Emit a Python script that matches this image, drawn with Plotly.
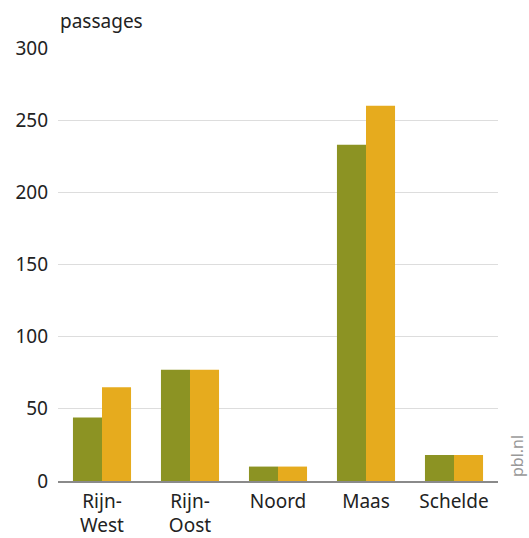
import plotly.graph_objects as go

categories = ["Rijn-<br>West", "Rijn-<br>Oost", "Noord", "Maas", "Schelde"]
series_a = [44, 77, 10, 233, 18]
series_b = [65, 77, 10, 260, 18]
y_ticks = [0, 50, 100, 150, 200, 250, 300]

FONT = "Noto Sans"
W, H = 529, 538
ML, MR, MT, MB = 58, 31, 48, 57
pw = W - ML - MR
ph = H - MT - MB


def px_to_paper(px, py):
    return (px - ML) / pw, (H - MB - py) / ph


fig = go.Figure()
fig.add_trace(go.Bar(x=categories, y=series_a, marker=dict(color="#8C9323", line=dict(width=0)), name="a"))
fig.add_trace(go.Bar(x=categories, y=series_b, marker=dict(color="#E6AB1E", line=dict(width=0)), name="b"))

tx, ty = px_to_paper(58, 21)
px_, py_ = px_to_paper(517, 456)

fig.update_layout(
    width=W, height=H,
    margin=dict(l=ML, r=MR, t=MT, b=MB, autoexpand=False),
    paper_bgcolor="white", plot_bgcolor="white",
    showlegend=False,
    barmode="group", bargap=0.34, bargroupgap=0,
    font=dict(family=FONT, size=19, color="#222222"),
    xaxis=dict(showgrid=False, showline=True, linecolor="#8A8A8A", linewidth=1.5,
               ticks="", tickfont=dict(size=19), ticklabelstandoff=2),
    yaxis=dict(range=[0, 300], tickvals=y_ticks, showgrid=True, gridcolor="#DDDDDD",
               gridwidth=1, zeroline=False, showline=False, ticks="",
               tickfont=dict(size=19), ticklabelstandoff=9),
    annotations=[
        dict(text="passages", x=tx, y=ty, xref="paper", yref="paper", showarrow=False,
             font=dict(size=19), xanchor="left", yanchor="middle"),
        dict(text="pbl.nl", x=px_, y=py_, xref="paper", yref="paper", showarrow=False,
             textangle=-90, font=dict(size=16, color="#999999"),
             xanchor="center", yanchor="middle"),
    ],
)

fig.write_html("out.html", config={"displayModeBar": False},
               post_script="document.body.style.margin='0';")
